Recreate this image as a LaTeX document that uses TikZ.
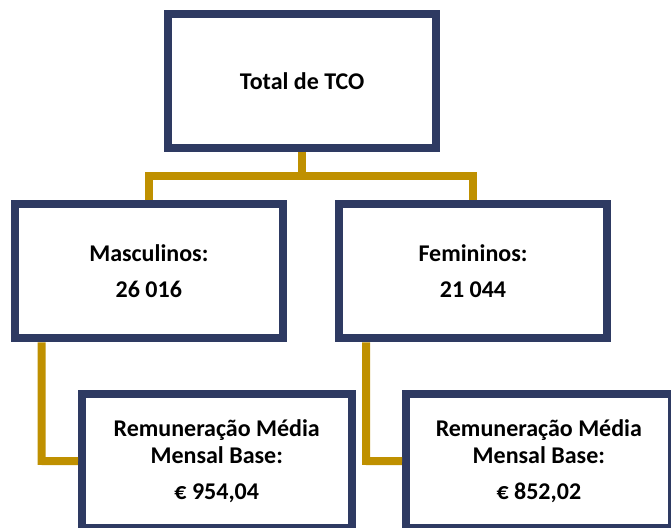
\documentclass[tikz,border=0pt]{standalone}
\usepackage{fontspec}
\setmainfont{Carlito}
\definecolor{navy}{RGB}{46,58,98}
\definecolor{gold}{RGB}{191,144,0}
\begin{document}
\begin{tikzpicture}[x=1pt,y=1pt,
  box/.style={draw=navy, line width=8pt, fill=white, rectangle, minimum height=134pt,
    align=center, inner sep=0pt, font=\fontsize{24}{27}\selectfont\bfseries},
  conn/.style={draw=gold, line width=8pt, line join=miter}]
\useasboundingbox (0,0) rectangle (671,527);
\node[box, minimum width=268.3pt] (top) at (302.2,446) {Total de TCO};
\node[box, minimum width=267.7pt] (masc) at (148.85,255.7) {Masculinos:\\[9.5pt]26 016};
\node[box, minimum width=268pt] (fem) at (473,255.7) {Femininos:\\[9.5pt]21 044};
\node[box, minimum width=269.5pt] (rem1) at (216.75,65.8) {Remuneração Média\\Mensal Base:\\[9.5pt]€ 954,04};
\node[box, minimum width=265.7pt] (rem2) at (538.85,65.8) {Remuneração Média\\Mensal Base:\\[9.5pt]€ 852,02};
\coordinate (split) at (302.2,351);
\coordinate (elbowL) at (41.7,66);
\coordinate (elbowR) at (366,66);
\draw[conn] (top.south) -- (split);
\draw[conn] (masc.north) |- (split) -| (fem.north);
\draw[conn] (masc.south -| elbowL) -- (elbowL) -- (rem1.west);
\draw[conn] (fem.south -| elbowR) -- (elbowR) -- (rem2.west);
\end{tikzpicture}
\end{document}
